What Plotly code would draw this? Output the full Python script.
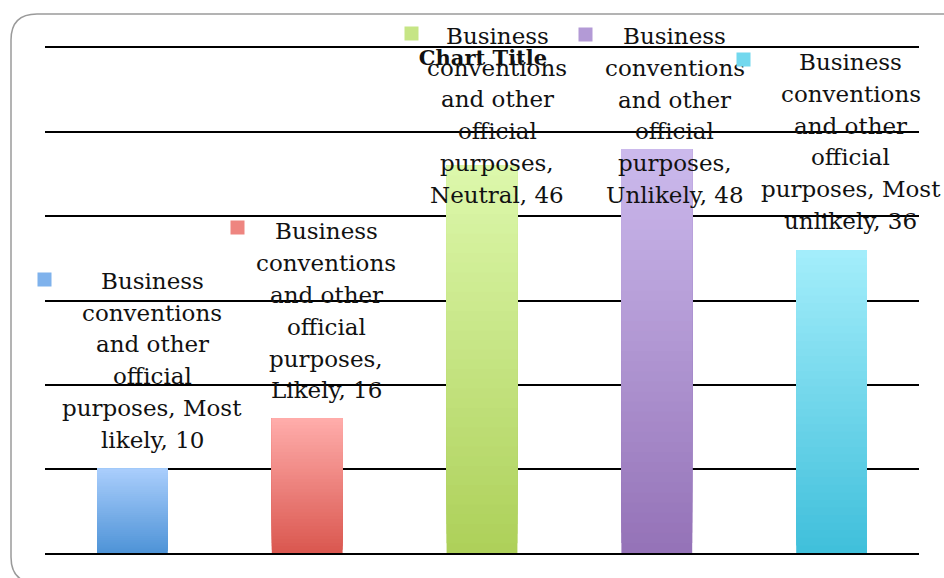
import plotly.graph_objects as go

# ---- data ----
categories = ["Most likely", "Likely", "Neutral", "Unlikely", "Most unlikely"]
values = [10, 16, 46, 48, 36]
series_name = "Business conventions and other official purposes"
label_lines = [
    ["Business", "conventions", "and other", "official", "purposes, Most", "likely, 10"],
    ["Business", "conventions", "and other", "official", "purposes,", "Likely, 16"],
    ["Business", "conventions", "and other", "official", "purposes,", "Neutral, 46"],
    ["Business", "conventions", "and other", "official", "purposes,", "Unlikely, 48"],
    ["Business", "conventions", "and other", "official", "purposes, Most", "unlikely, 36"],
]
chart_title = "Chart Title"

# ---- style ----
top_colors = ["#aacefc", "#ffadab", "#ddf8ac", "#ccbaed", "#a4eefb"]
bottom_colors = ["#4e93d7", "#da574f", "#add059", "#9472b7", "#3fbfdb"]
key_colors = ["#7fb2ec", "#ee8580", "#c6e585", "#b39ad6", "#72d8ee"]
label_xshift = [20, 19, 15, 18, 19]
first_line_yshift = [188, 187, 130, 113, 188]
line_gap = 31.8
key_xshift = [-88, -70, -71, -71, -88]
key_yshift = [189, 191, 132, 115, 191]

W, H = 944, 578
L, R, T, B = 45, 25, 48, 25


def hex2rgb(h):
    h = h.lstrip("#")
    return tuple(int(h[i:i + 2], 16) for i in (0, 2, 4))


def mix(c1, c2, t):
    a, b = hex2rgb(c1), hex2rgb(c2)
    return "rgb(%d,%d,%d)" % tuple(round(a[i] + (b[i] - a[i]) * t) for i in range(3))


fig = go.Figure()
N = 40
for k in range(N):
    t = (k + 0.5) / N
    fig.add_trace(go.Bar(
        x=categories,
        y=[v - v * k / N for v in values],
        base=[v * k / N for v in values],
        marker=dict(color=[mix(bottom_colors[i], top_colors[i], t) for i in range(len(values))],
                    line=dict(width=0)),
        width=0.405,
        showlegend=False,
        hoverinfo="skip",
        name=series_name,
    ))

annotations = []
for i, (c, v) in enumerate(zip(categories, values)):
    for j, line in enumerate(label_lines[i]):
        annotations.append(dict(
            x=c, y=v, xref="x", yref="y",
            text=line,
            showarrow=False, xanchor="center", yanchor="middle", align="center",
            xshift=label_xshift[i], yshift=first_line_yshift[i] - j * line_gap,
            font=dict(family="DejaVu Serif", size=23, color="#111111"),
        ))
    annotations.append(dict(
        x=c, y=v, xref="x", yref="y", text=" ",
        showarrow=False, xanchor="center", yanchor="middle",
        width=13, height=13, borderpad=0, bgcolor=key_colors[i],
        xshift=key_xshift[i], yshift=key_yshift[i],
        font=dict(size=6),
    ))

# rounded border (paper coordinates)
pw, ph = W - L - R, H - T - B


def px(xp):
    return (xp - L) / pw


def py(yp):
    return (H - B - yp) / ph


lft, rgt, top, bot, rad = 11, 975, 14, 583, 26
path = (f"M {px(lft + rad)},{py(top)} L {px(rgt)},{py(top)} L {px(rgt)},{py(bot)} "
        f"L {px(lft + rad)},{py(bot)} Q {px(lft)},{py(bot)} {px(lft)},{py(bot - rad)} "
        f"L {px(lft)},{py(top + rad)} Q {px(lft)},{py(top)} {px(lft + rad)},{py(top)} Z")

fig.update_layout(
    width=W, height=H,
    margin=dict(l=L, r=R, t=T, b=B),
    paper_bgcolor="white", plot_bgcolor="white",
    barmode="overlay",
    title=dict(text="<b>%s</b>" % chart_title, x=483 / W, xanchor="center",
               y=1 - 58 / H, yanchor="middle",
               font=dict(family="DejaVu Serif", size=21, color="#111111")),
    xaxis=dict(range=[-0.5, 4.5], showticklabels=False, showgrid=False, zeroline=False,
               showline=True, mirror=True, linecolor="#000000", linewidth=2, ticks=""),
    yaxis=dict(range=[0, 60], dtick=10, showticklabels=False, showgrid=True,
               gridcolor="#000000", gridwidth=2, zeroline=False,
               showline=False, ticks=""),
    annotations=annotations,
    shapes=[dict(type="path", xref="paper", yref="paper", path=path,
                 line=dict(color="#9a9a9a", width=1.5), fillcolor="rgba(0,0,0,0)", layer="below")],
    showlegend=False,
)

fig.write_html("out.html", config={"displayModeBar": False},
               post_script="document.body.style.margin='0px';")
